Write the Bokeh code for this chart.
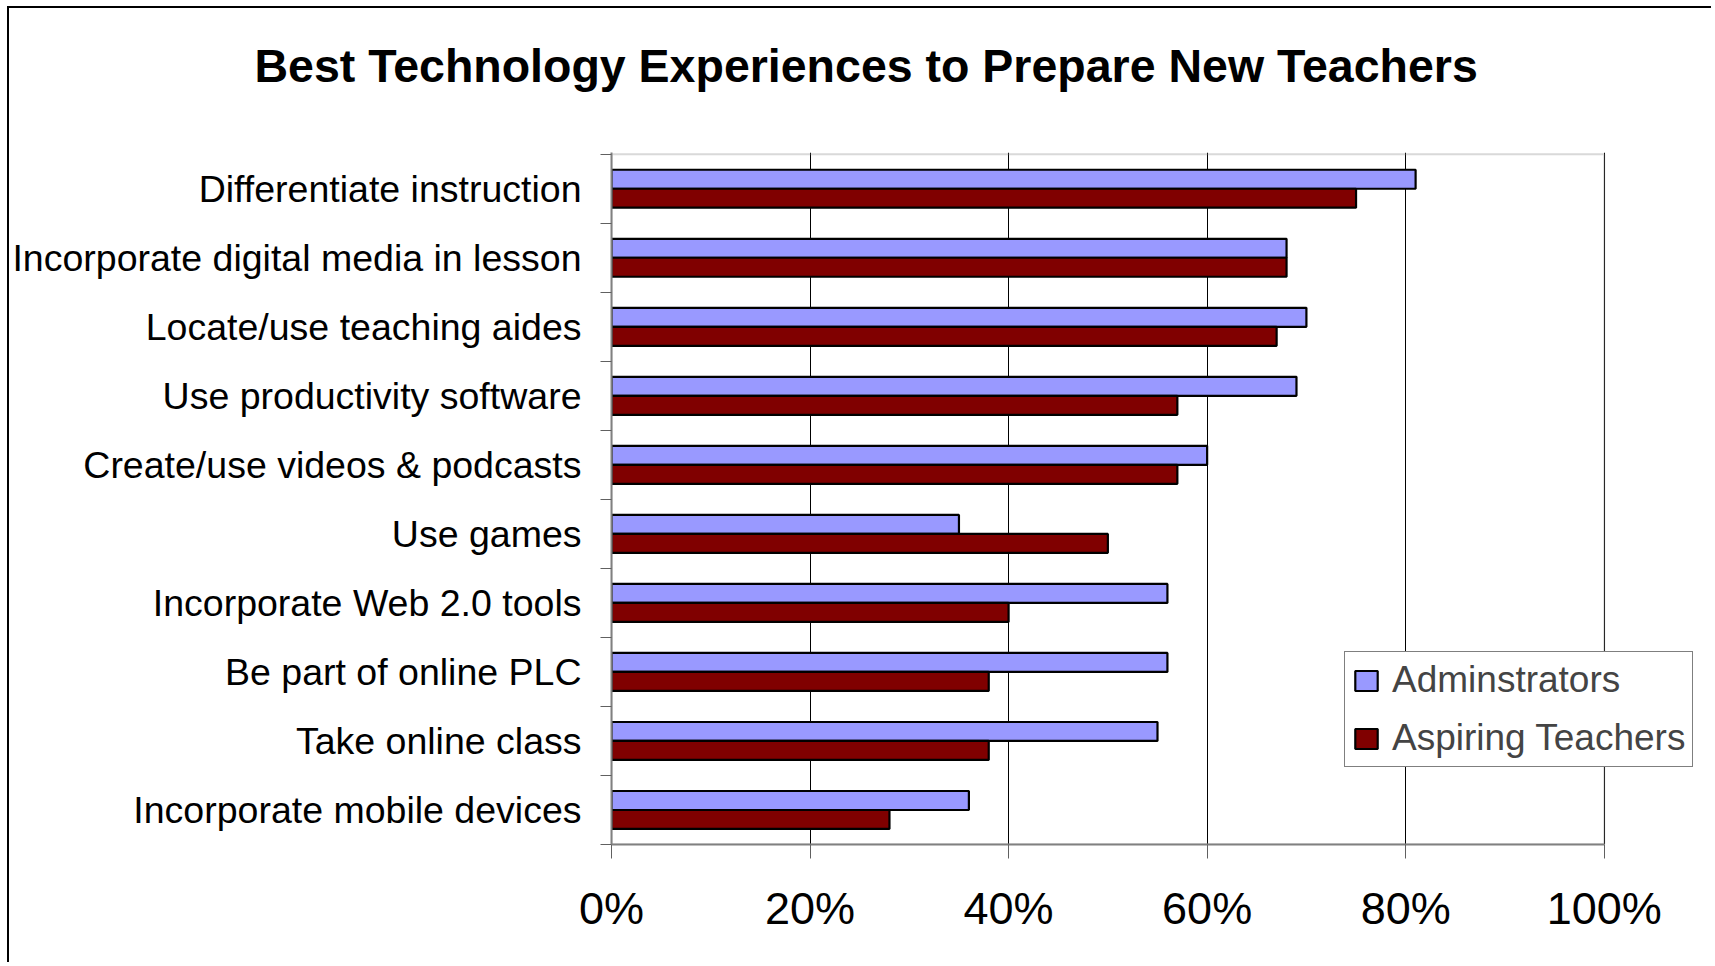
from bokeh.plotting import figure
from bokeh.models import Range1d, FixedTicker, Legend, LegendItem, Title, ColumnDataSource, BoxAnnotation
from bokeh.embed import file_html
from bokeh.resources import INLINE

# ---- data ----
categories = ["Differentiate instruction", "Incorporate digital media in lesson",
              "Locate/use teaching aides", "Use productivity software",
              "Create/use videos & podcasts", "Use games", "Incorporate Web 2.0 tools",
              "Be part of online PLC", "Take online class", "Incorporate mobile devices"]
administrators = [81, 68, 70, 69, 60, 35, 56, 56, 55, 36]
aspiring_teachers = [75, 68, 67, 57, 57, 50, 40, 38, 38, 28]
x_ticks = [0, 20, 40, 60, 80, 100]
x_tick_labels = ["0%", "20%", "40%", "60%", "80%", "100%"]
series_names = ["Adminstrators", "Aspiring Teachers"]
title_text = "Best Technology Experiences to Prepare New Teachers"

FONT = "Liberation Sans"
n = len(categories)
centers = [n - 1 - i for i in range(n)]
bar_h = 0.275
x_max = x_ticks[-1]

p = figure(width=1704, height=956, x_range=Range1d(0, x_max * 1.1),
           y_range=Range1d(-0.5, n - 0.5 + 0.025),
           output_backend="svg", toolbar_location=None,
           min_border_left=598, min_border_right=10, min_border_top=144, min_border_bottom=120)
p.styles = {"margin-left": "7px", "margin-top": "6px",
            "border-left": "2px solid black", "border-top": "2px solid black"}
p.background_fill_color = "white"
p.border_fill_color = "white"
p.outline_line_color = None

# title
p.title.text = title_text
p.title.text_font = FONT
p.title.text_font_size = "46.5px"
p.title.text_font_style = "bold"
p.title.text_color = "black"
p.title.align = "left"
p.title.offset = -357
p.title.standoff = 0
spacer = Title(text=" ", text_font_size="10px", standoff=48)
p.add_layout(spacer, "above")

src_a = ColumnDataSource(dict(y=[c + bar_h / 2 for c in centers], v=administrators))
src_b = ColumnDataSource(dict(y=[c - bar_h / 2 for c in centers], v=aspiring_teachers))
ra = p.hbar(y="y", right="v", left=0, height=bar_h, source=src_a,
            fill_color="#9999FF", line_color="black", line_width=2.2)
rb = p.hbar(y="y", right="v", left=0, height=bar_h, source=src_b,
            fill_color="#800000", line_color="black", line_width=2.2)

# plot-area border (0..100%)
p.add_layout(BoxAnnotation(left=0, right=x_max, bottom=-0.5, top=n - 0.5,
                           fill_color=None, fill_alpha=0,
                           line_color="#808080", line_width=2, level="underlay"))

# x axis
xa = p.xaxis[0]
xa.ticker = FixedTicker(ticks=x_ticks)
xa.bounds = (0, x_max)
xa.major_label_overrides = {t: l for t, l in zip(x_ticks, x_tick_labels)}
xa.major_label_text_font = FONT
xa.major_label_text_font_size = "45px"
xa.major_label_text_color = "black"
xa.major_label_standoff = 24
xa.major_tick_out = 14
xa.major_tick_in = 0
xa.major_tick_line_color = "#606060"
xa.minor_tick_line_color = None
xa.axis_line_color = "#808080"
xa.axis_line_width = 2

# y axis
ya = p.yaxis[0]
ya.ticker = FixedTicker(ticks=centers, minor_ticks=[c - 0.5 for c in centers] + [n - 0.5])
ya.major_label_overrides = {c: cat for c, cat in zip(centers, categories)}
ya.major_label_text_font = FONT
ya.major_label_text_font_size = "37.5px"
ya.major_label_text_color = "black"
ya.major_label_standoff = 19
ya.major_tick_out = 0
ya.major_tick_in = 0
ya.major_tick_line_color = None
ya.minor_tick_out = 11
ya.minor_tick_in = 0
ya.minor_tick_line_color = "#606060"
ya.axis_line_color = "#808080"
ya.axis_line_width = 2

p.xgrid.grid_line_color = "black"
p.xgrid.grid_line_width = 1
p.ygrid.grid_line_color = None

legend = Legend(items=[LegendItem(label=series_names[0], renderers=[ra]),
                       LegendItem(label=series_names[1], renderers=[rb])],
                location=(733, 77), margin=0, padding=7, spacing=16,
                glyph_width=28, glyph_height=25, label_standoff=12,
                label_text_font=FONT, label_text_font_size="37px",
                border_line_color="black", border_line_width=1,
                background_fill_color="white", background_fill_alpha=1)
p.add_layout(legend, "center")

open("out.html", "w").write(file_html(p, INLINE))
